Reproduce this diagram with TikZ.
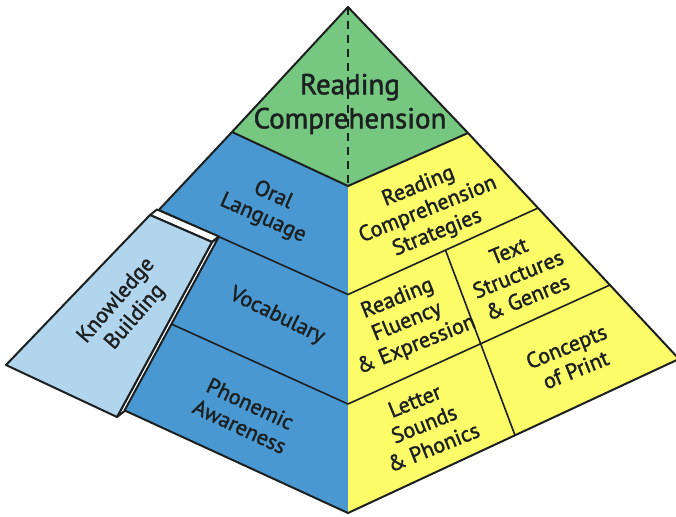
\documentclass[tikz,border=0pt]{standalone}
\usepackage{fontspec}
\setmainfont{PT Sans}[FakeBold=1.6]
\usetikzlibrary{calc}
\definecolor{rcgreen}{RGB}{118,200,128}
\definecolor{plblue}{RGB}{74,152,210}
\definecolor{kblue}{RGB}{178,213,238}
\definecolor{pyellow}{RGB}{252,252,104}
\definecolor{edgec}{RGB}{28,32,32}
\begin{document}
\begin{tikzpicture}[x=1pt,y=-1pt,
  outline/.style={draw=edgec,line width=2pt,line join=round},
  divider/.style={draw=edgec,line width=1.6pt},
  toplbl/.style={font=\fontsize{29}{34}\selectfont,align=center,text=edgec,inner sep=0pt},
  lbl/.style={font=\fontsize{22}{25}\selectfont,align=center,text=edgec,inner sep=0pt}]
\useasboundingbox (0,0) rectangle (676,516);
% pyramid corners
\coordinate (A) at (348,7);
\coordinate (GL) at (232,132);
\coordinate (GR) at (468,133);
\coordinate (C1) at (348,186);
\coordinate (B) at (348,513);
\coordinate (L) at (17,361);
\coordinate (R) at (679,359);
\coordinate (P1) at (348,294.5);
\coordinate (P2) at (348,404);
% points on edges
\coordinate (L1) at ($(GL)!0.34!(L)$);
\coordinate (L2) at ($(GL)!0.6725!(L)$);
\coordinate (S2) at ($(GR)!0.332!(R)$);
\coordinate (M2) at ($(GR)!0.6726!(R)$);
\coordinate (V1) at ($(P1)!0.513!(S2)$);
\coordinate (V2) at ($(B)!0.5045!(R)$);
% faces
\fill[rcgreen] (A) -- (GL) -- (C1) -- (GR) -- cycle;
\fill[plblue] (GL) -- (C1) -- (B) -- (L) -- cycle;
\fill[pyellow] (C1) -- (GR) -- (R) -- (B) -- cycle;
% dividers
\draw[divider] (L1) -- (P1);
\draw[divider] (L2) -- (P2);
\draw[divider] (P1) -- (S2);
\draw[divider] (P2) -- (M2);
\draw[divider] (V1) -- (V2);
% outlines
\draw[outline] (A) -- (GL) -- (L) -- (B) -- (R) -- (GR) -- cycle;
\draw[outline] (GL) -- (C1) -- (GR);
\draw[edgec,line width=1.5pt,dash pattern=on 8pt off 6pt] (A) -- (C1);
% knowledge building slab
\coordinate (F1) at (150,215);
\coordinate (F2) at (212,242);
\coordinate (F3) at (117,417);
\coordinate (F4) at (6,365);
\coordinate (K1) at ($(F1)+(7,-5.5)$);
\coordinate (K2) at ($(F2)+(7,-5.5)$);
\coordinate (K3) at ($(F3)+(7,-5.5)$);
\fill[white] (F1) -- (K1) -- (K2) -- (K3) -- (F3) -- (F2) -- cycle;
\draw[outline] (F1) -- (K1) -- (K2) -- (F2) -- cycle;
\draw[outline] (F2) -- (K2) -- (K3) -- (F3) -- cycle;
\draw[outline,fill=kblue] (F1) -- (F2) -- (F3) -- (F4) -- cycle;
% labels
\node[toplbl] (rc) at (350,104) {Reading\\Comprehension};
\node[lbl,rotate=-24] (ol) at (268,207) {Oral\\Language};
\node[lbl,rotate=-26] (voc) at (277,316) {Vocabulary};
\node[lbl,rotate=-25] (pa) at (245,415) {Phonemic\\Awareness};
\node[lbl,rotate=49] (kb) at (126,309) {Knowledge\\Building};
\node[lbl,rotate=22] (rcs) at (428,210) {Reading\\Comprehension\\Strategies};
\node[lbl,rotate=22] (tsg) at (518,274) {Text\\Structures\\\& Genres};
\node[lbl,rotate=22] (rfe) at (407,322) {Reading\\Fluency\\\& Expression};
\node[lbl,rotate=22] (lsp) at (424,424) {Letter\\Sounds\\\& Phonics};
\node[lbl,rotate=22] (cop) at (571,358) {Concepts\\of Print};
\end{tikzpicture}
\end{document}
